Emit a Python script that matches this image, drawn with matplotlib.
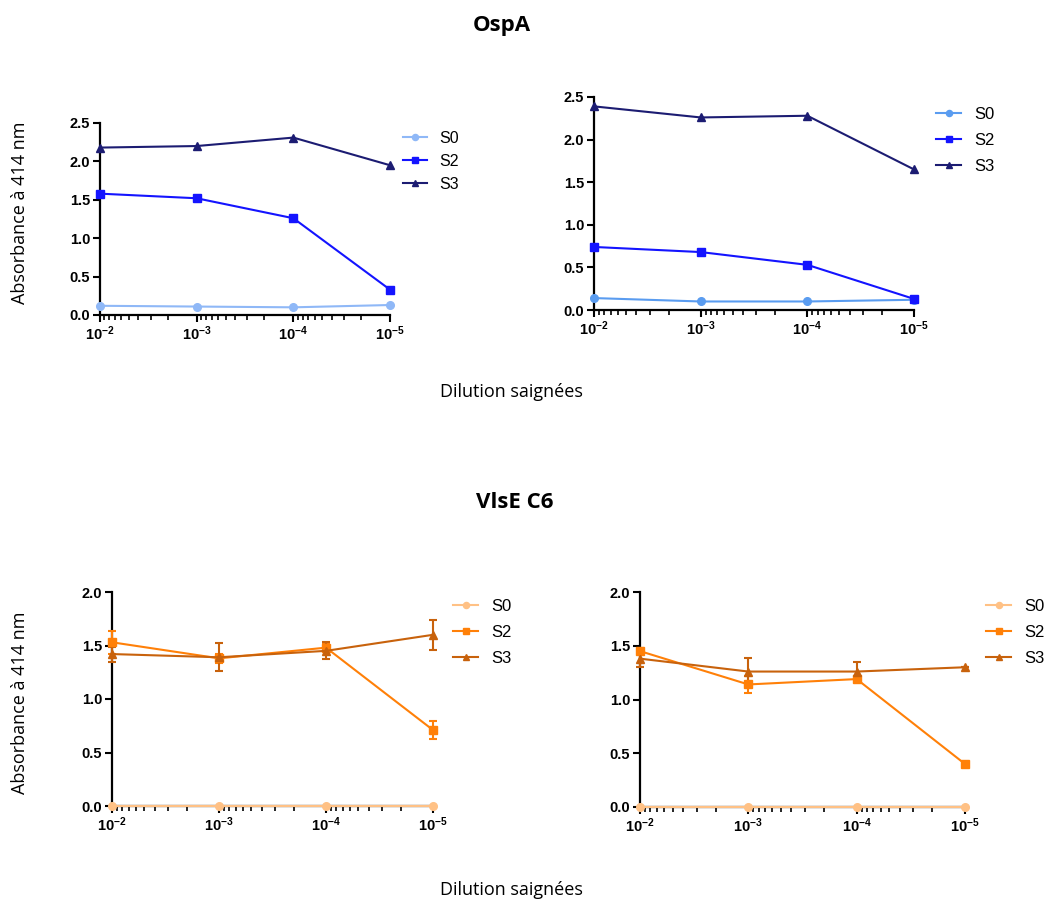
import matplotlib
matplotlib.use("Agg")
import matplotlib.pyplot as plt
from matplotlib.ticker import FixedLocator, LogLocator, NullFormatter

plt.rcParams['font.family'] = ['Liberation Sans', 'DejaVu Sans']
plt.rcParams['mathtext.fontset'] = 'custom'
plt.rcParams['mathtext.bf'] = 'Liberation Sans:bold'
plt.rcParams['mathtext.rm'] = 'Liberation Sans'

# dilutions (x) and labels
dilutions = [1e-2, 1e-3, 1e-4, 1e-5]
dil_labels = [r'$\mathbf{10^{-2}}$', r'$\mathbf{10^{-3}}$', r'$\mathbf{10^{-4}}$', r'$\mathbf{10^{-5}}$']
series = ['S0', 'S2', 'S3']

# OspA
ospa_left_s0 = [0.12, 0.11, 0.10, 0.13]
ospa_left_s2 = [1.58, 1.52, 1.26, 0.33]
ospa_left_s3 = [2.18, 2.20, 2.31, 1.95]
ospa_right_s0 = [0.14, 0.10, 0.10, 0.12]
ospa_right_s2 = [0.74, 0.68, 0.53, 0.13]
ospa_right_s3 = [2.39, 2.26, 2.28, 1.65]

# VlsE C6 (mean, error)
vlse_left_s0 = [0.0, 0.0, 0.0, 0.0]
vlse_left_s2 = [1.53, 1.38, 1.48, 0.71]
vlse_left_s2_err = [0.11, 0.04, 0.03, 0.08]
vlse_left_s3 = [1.42, 1.39, 1.45, 1.60]
vlse_left_s3_err = [0.07, 0.13, 0.08, 0.14]
vlse_right_s0 = [0.0, 0.0, 0.0, 0.0]
vlse_right_s2 = [1.45, 1.14, 1.19, 0.40]
vlse_right_s2_err = [0.03, 0.08, 0.03, 0.0]
vlse_right_s3 = [1.38, 1.26, 1.26, 1.30]
vlse_right_s3_err = [0.08, 0.13, 0.09, 0.0]

blue_left = ['#8fb8f7', '#1414ff', '#1c1c72']
blue_right = ['#5a9cf0', '#1414ff', '#1c1c72']
orange = ['#ffc185', '#ff8008', '#c8620c']
markers = ['o', 's', '^']

W, H = 1046, 901
fig = plt.figure(figsize=(W / 100, H / 100), dpi=100)


def make_ax(x0, x1, ytop, ybot):
    return fig.add_axes([x0 / W, 1 - ybot / H, (x1 - x0) / W, (ybot - ytop) / H])


def style(ax, ymax):
    ax.set_xscale('log')
    ax.set_xlim(1e-2, 1e-5)
    ax.set_ylim(0, ymax)
    ax.xaxis.set_major_locator(FixedLocator(dilutions))
    ax.set_xticklabels(dil_labels)
    ax.xaxis.set_minor_locator(LogLocator(base=10, subs=range(2, 10)))
    ax.xaxis.set_minor_formatter(NullFormatter())
    yt = [i * 0.5 for i in range(int(ymax / 0.5) + 1)]
    ax.set_yticks(yt)
    ax.set_yticklabels(['%.1f' % v for v in yt], fontweight='bold')
    for s in ['top', 'right']:
        ax.spines[s].set_visible(False)
    for s in ['left', 'bottom']:
        ax.spines[s].set_linewidth(1.6)
    ax.tick_params(which='major', direction='out', length=5, width=1.5, labelsize=10.5, pad=2)
    ax.tick_params(which='minor', direction='out', length=3.5, width=1.2)


def draw(ax, data, errs, colors, leg_px, fs, spacing):
    for i, (vals, name) in enumerate(zip(data, series)):
        err = errs[i]
        if err is not None:
            ax.errorbar(dilutions, vals, yerr=err, fmt='none', ecolor=colors[i],
                        capsize=3, capthick=1.5, elinewidth=1.5, clip_on=False, zorder=3)
        ax.plot(dilutions, vals, color=colors[i], marker=markers[i], ms=5.5,
                lw=1.5, label=name, clip_on=False, zorder=4)
    ax.legend(loc='upper left', bbox_to_anchor=(leg_px[0] / W, 1 - leg_px[1] / H),
              bbox_transform=fig.transFigure, frameon=False, fontsize=fs,
              handlelength=1.5, labelspacing=spacing, handletextpad=0.8,
              borderaxespad=0, borderpad=0, markerscale=0.8)


ax1 = make_ax(100, 390, 123, 315)
style(ax1, 2.5)
draw(ax1, [ospa_left_s0, ospa_left_s2, ospa_left_s3], [None, None, None], blue_left,
     (403, 131), 11.5, 0.5)

ax2 = make_ax(594, 914, 97, 310)
style(ax2, 2.5)
draw(ax2, [ospa_right_s0, ospa_right_s2, ospa_right_s3], [None, None, None], blue_right,
     (936, 107), 12, 0.65)

ax3 = make_ax(112, 433, 592, 806)
style(ax3, 2.0)
draw(ax3, [vlse_left_s0, vlse_left_s2, vlse_left_s3], [None, vlse_left_s2_err, vlse_left_s3_err],
     orange, (453, 599), 12, 0.65)

ax4 = make_ax(640, 965, 592, 807)
style(ax4, 2.0)
draw(ax4, [vlse_right_s0, vlse_right_s2, vlse_right_s3], [None, vlse_right_s2_err, vlse_right_s3_err],
     orange, (986, 599), 12, 0.65)

title_font = ['Open Sans', 'DejaVu Sans']
fig.text(502 / W, 1 - 25 / H, 'OspA', ha='center', va='center', fontsize=16, fontweight='bold',
         family=title_font)
fig.text(515 / W, 1 - 503 / H, 'VlsE C6', ha='center', va='center', fontsize=16, fontweight='bold',
         family=title_font)
fig.text(20 / W, 1 - 213 / H, 'Absorbance à 414 nm', rotation=90, ha='center', va='center',
         fontsize=13, family=title_font)
fig.text(20 / W, 1 - 703 / H, 'Absorbance à 414 nm', rotation=90, ha='center', va='center',
         fontsize=13, family=title_font)
fig.text(511 / W, 1 - 392 / H, 'Dilution saignées', ha='center', va='center', fontsize=13,
         family=title_font)
fig.text(511 / W, 1 - 890 / H, 'Dilution saignées', ha='center', va='center', fontsize=13,
         family=title_font)

fig.savefig('out.png', dpi=100)
